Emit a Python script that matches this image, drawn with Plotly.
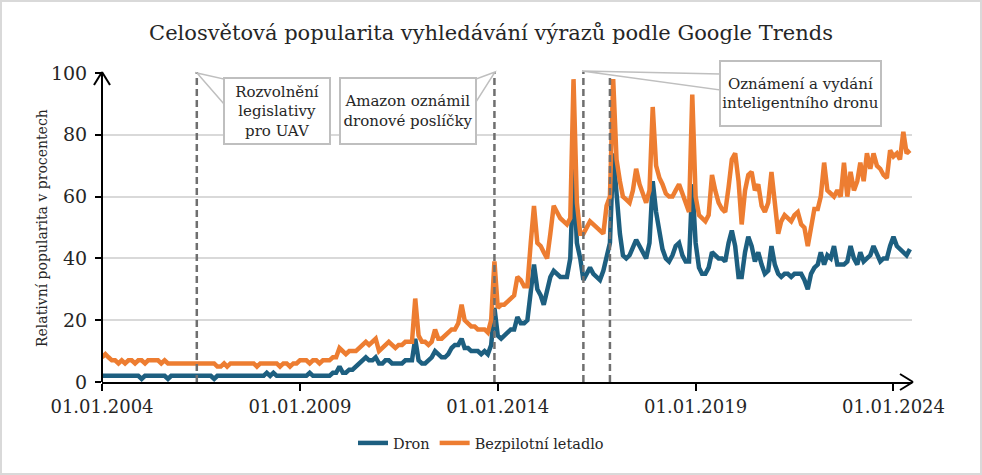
import pandas as pd
import plotly.graph_objects as go

# ---------------- data ----------------
start_month = "2004-01-01"
series_names = ["Dron", "Bezpilotní letadlo"]

dron = [
    2, 2, 2, 2, 2, 2, 2, 2, 2, 2, 2, 2,            # 2004
    1, 2, 2, 2, 2, 2, 2, 2, 1, 2, 2, 2,            # 2005
    2, 2, 2, 2, 2, 2, 2, 2, 2, 2, 1, 2,            # 2006
    2, 2, 2, 2, 2, 2, 2, 2, 2, 2, 2, 2,            # 2007
    2, 2, 3, 2, 3, 2, 2, 2, 2, 2, 2, 2,            # 2008
    2, 2, 2, 3, 2, 2, 2, 2, 2, 2, 3, 3,            # 2009
    5, 3, 3, 4, 4, 5, 6, 7, 8, 7, 7, 8,            # 2010
    6, 6, 7, 7, 6, 6, 6, 6, 7, 7, 7, 14,           # 2011
    7, 6, 6, 7, 8, 10, 9, 8, 8, 9, 11, 12,         # 2012
    12, 14, 11, 11, 10, 10, 10, 9, 10, 9, 12, 24,  # 2013
    15, 14, 15, 16, 17, 17, 21, 19, 19, 20, 30, 38,  # 2014
    30, 28, 25, 30, 34, 36, 35, 34, 34, 34, 40, 69,  # 2015
    45, 40, 33, 35, 37, 35, 34, 33, 36, 41, 45, 74,  # 2016
    60, 48, 41, 40, 41, 44, 46, 44, 42, 40, 45, 65,  # 2017
    55, 48, 43, 40, 39, 41, 44, 45, 41, 39, 39, 64,  # 2018
    45, 37, 35, 35, 37, 42, 41, 40, 40, 39, 45, 49,  # 2019
    44, 34, 34, 42, 47, 44, 39, 42, 38, 35, 36, 44,  # 2020
    38, 35, 34, 35, 35, 34, 35, 35, 35, 33, 30, 35,  # 2021
    37, 38, 42, 38, 41, 40, 44, 38, 38, 38, 39, 44,  # 2022
    40, 38, 42, 39, 40, 41, 44, 41, 39, 40, 40, 44,  # 2023
    47, 44, 43, 42, 41, 43,                          # 2024
]

bezpilotni = [
    8, 9, 8, 7, 7, 6, 7, 6, 7, 7, 6, 7,            # 2004
    7, 6, 7, 7, 7, 7, 6, 7, 6, 6, 6, 6,            # 2005
    6, 6, 6, 6, 6, 6, 6, 6, 6, 6, 6, 5,            # 2006
    5, 6, 5, 6, 6, 6, 6, 6, 6, 6, 6, 5,            # 2007
    6, 6, 6, 6, 6, 6, 5, 6, 6, 5, 6, 6,            # 2008
    7, 7, 7, 6, 7, 7, 6, 7, 7, 7, 8, 8,            # 2009
    11, 10, 9, 10, 10, 10, 11, 12, 13, 12, 13, 14,   # 2010
    10, 11, 12, 13, 12, 11, 12, 12, 13, 13, 13, 27,  # 2011
    15, 13, 13, 12, 13, 17, 14, 14, 15, 16, 17, 17,  # 2012
    19, 25, 20, 19, 18, 18, 17, 17, 17, 16, 20, 39,  # 2013
    24, 25, 25, 26, 27, 28, 34, 33, 31, 31, 45, 57,  # 2014
    45, 44, 42, 40, 48, 57, 55, 53, 52, 51, 53, 98,  # 2015
    58, 48, 48, 50, 52, 51, 50, 49, 48, 57, 60, 98,  # 2016
    72, 65, 60, 59, 58, 62, 69, 64, 61, 58, 62, 89,  # 2017
    70, 66, 64, 61, 60, 60, 62, 64, 61, 58, 55, 93,  # 2018
    60, 54, 53, 52, 54, 67, 62, 58, 56, 55, 63, 72,  # 2019
    74, 65, 51, 62, 67, 68, 62, 64, 57, 55, 58, 68,  # 2020
    58, 48, 52, 54, 53, 52, 54, 55, 51, 50, 44, 51,  # 2021
    56, 56, 60, 71, 62, 61, 60, 62, 60, 71, 60, 68,  # 2022
    62, 65, 71, 65, 74, 69, 74, 70, 69, 67, 66, 75,  # 2023
    73, 74, 72, 81, 74, 75,                          # 2024
]

event_dates = ["2006-05-25", "2013-12-01", "2016-03-01", "2016-11-01"]
event_texts = [
    "Rozvolnění<br>legislativy<br>pro UAV",
    "Amazon oznámil<br>dronové poslíčky",
    "Oznámení a vydání<br>inteligentního dronu",
]

tick_dates = ["2004-01-01", "2009-01-01", "2014-01-01", "2019-01-01", "2024-01-01"]
tick_labels = ["01.01.2004", "01.01.2009", "01.01.2014", "01.01.2019", "01.01.2024"]
y_ticks = [0, 20, 40, 60, 80, 100]

assert len(dron) == len(bezpilotni)
dates = pd.date_range(start_month, periods=len(dron), freq="MS")

# ---------------- layout geometry ----------------
W, H = 982, 475
ML, MR, MT, MB = 102, 70, 73, 93
PW, PH = W - ML - MR, H - MT - MB
FONT = "DejaVu Serif"
TXT = "#262626"
BLUE = "#1d5f80"
ORANGE = "#ed7d31"
GRID = "#d9d9d9"
BOXLINE = "#bfbfbf"


def px(x):
    return (x - ML) / PW


def py(y):
    return (H - MB - y) / PH


fig = go.Figure()
fig.add_trace(go.Scatter(x=dates, y=dron, name=series_names[0], mode="lines",
                         line=dict(color=BLUE, width=4.5)))
fig.add_trace(go.Scatter(x=dates, y=bezpilotni, name=series_names[1], mode="lines",
                         line=dict(color=ORANGE, width=4.5)))

shapes = []
# figure border
shapes.append(dict(type="rect", xref="paper", yref="paper",
                   x0=px(1), x1=px(W - 1), y0=py(H - 1), y1=py(1),
                   line=dict(color=GRID, width=2), layer="below"))
# event dashed lines
for d in event_dates:
    shapes.append(dict(type="line", xref="x", yref="paper", x0=d, x1=d,
                       y0=0, y1=py(72), line=dict(color="#6f6f6f", width=2.5, dash="7px,4px"),
                       layer="above"))
# callout wedges
wedges = [
    [(197, 73), (224, 79), (224, 104)],
    [(495, 72), (476, 79), (476, 102)],
    [(582, 71), (720, 74), (720, 90)],
]
for w in wedges:
    path = "M " + " L ".join(f"{px(a)},{py(b)}" for a, b in w) + " Z"
    shapes.append(dict(type="path", xref="paper", yref="paper", path=path,
                       fillcolor="white", line=dict(color=BOXLINE, width=1.5), layer="above"))
# axis arrowheads
for (a0, b0, a1, b1) in [(94, 85, 102, 72), (110, 85, 102, 72),
                         (900, 374, 913, 382), (900, 390, 913, 382)]:
    shapes.append(dict(type="line", xref="paper", yref="paper",
                       x0=px(a0), y0=py(b0), x1=px(a1), y1=py(b1),
                       line=dict(color="black", width=2), layer="above"))
# y axis line up to arrow tip
shapes.append(dict(type="line", xref="paper", yref="paper", x0=0, x1=0, y0=0, y1=py(72),
                   line=dict(color="black", width=2), layer="above"))

annotations = []
boxes = [((223, 77, 331, 145), event_texts[0]),
         ((339, 77, 477, 145), event_texts[1]),
         ((719, 60, 882, 127), event_texts[2])]
for (x0, y0, x1, y1), t in boxes:
    annotations.append(dict(xref="paper", yref="paper", x=px((x0 + x1) / 2), y=py((y0 + y1) / 2),
                            text=t, showarrow=False, width=x1 - x0 - 4, height=y1 - y0 - 4,
                            align="center", valign="middle", bgcolor="white",
                            bordercolor=BOXLINE, borderwidth=2, borderpad=0,
                            font=dict(family=FONT, size=15, color=TXT),
                            xanchor="center", yanchor="middle"))
annotations.append(dict(xref="paper", yref="paper", x=px(42), y=py(228),
                        text="Relativní popularita v procentech", showarrow=False,
                        textangle=-90, font=dict(family=FONT, size=14, color=TXT),
                        xanchor="center", yanchor="middle"))

fig.update_layout(
    width=W, height=H,
    margin=dict(l=ML, r=MR, t=MT, b=MB),
    paper_bgcolor="white", plot_bgcolor="white",
    title=dict(text="Celosvětová popularita vyhledávání výrazů podle Google Trends",
               x=0.5, xanchor="center", y=1 - 33 / H, yanchor="middle",
               font=dict(family=FONT, size=21, color=TXT)),
    xaxis=dict(type="date", range=["2004-01-01", "2024-06-20"],
               tickvals=tick_dates, ticktext=tick_labels,
               showline=True, linecolor="black", linewidth=2,
               ticks="outside", ticklen=7, tickwidth=2, tickcolor="black",
               showgrid=False, zeroline=False,
               tickfont=dict(family=FONT, size=18, color=TXT)),
    yaxis=dict(range=[0, 100], tickvals=y_ticks,
               showline=False,
               ticks="outside", ticklen=6, tickwidth=2, tickcolor="black",
               showgrid=True, gridcolor=GRID, gridwidth=1.5, zeroline=False,
               ticklabelstandoff=4,
               tickfont=dict(family=FONT, size=19, color=TXT)),
    legend=dict(orientation="h", x=px(481), y=py(443), xanchor="center", yanchor="middle",
                font=dict(family=FONT, size=14.5, color=TXT), bgcolor="rgba(0,0,0,0)"),
    shapes=shapes,
    annotations=annotations,
)

fig.write_html("out.html", config={"displayModeBar": False},
               post_script="document.body.style.margin='0';")
